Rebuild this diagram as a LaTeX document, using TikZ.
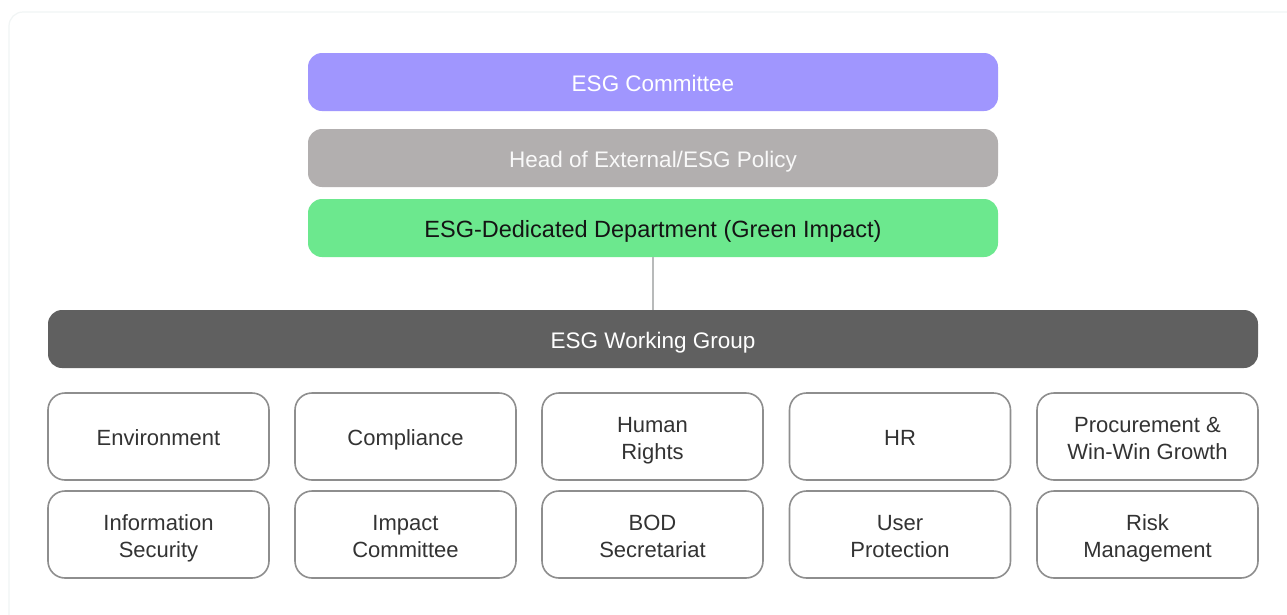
\documentclass[tikz,border=0pt]{standalone}
\usepackage{fontspec}
\setmainfont{Liberation Sans}
% one text line with fixed height and depth, so caps sit optically centred
\newcommand\tline[1]{\rule[-2pt]{0pt}{22pt}\smash{#1}}
\begin{document}
\begin{tikzpicture}[x=1pt,y=-1pt,
  bar/.style={rectangle, rounded corners=14pt, minimum width=690pt, minimum height=58pt,
    inner sep=0pt, font=\fontsize{22.5}{26}\selectfont},
  unit/.style={rectangle, rounded corners=17pt, draw=boxline, line width=1.6pt, fill=white,
    minimum width=221pt, minimum height=87pt, inner sep=0pt, align=center,
    text=boxtext, font=\fontsize{22}{27}\selectfont},
  link/.style={draw=linkgray, line width=2pt}]
  \definecolor{committee}{HTML}{A096FE}
  \definecolor{headgray}{HTML}{B2AFAF}
  \definecolor{greendept}{HTML}{6CE88E}
  \definecolor{wggray}{HTML}{606060}
  \definecolor{boxline}{HTML}{8E8E8E}
  \definecolor{boxtext}{HTML}{333333}
  \definecolor{linkgray}{HTML}{B8BABA}
  \definecolor{framecol}{HTML}{F1F5F5}
  % canvas and faint outer frame
  \useasboundingbox (0,0) rectangle (1287,614);
  \fill[white] (0,0) rectangle (1287,614);
  \draw[framecol, line width=1.2pt, rounded corners=14pt] (9,640) -- (9,12) -- (1310,12);
  % governance levels
  \node[bar, fill=committee, text=white] (comm) at (653,82) {\tline{ESG Committee}};
  \node[bar, fill=headgray, text=white!95!gray] (head) at (653,158) {\tline{Head of External/ESG Policy}};
  \node[bar, fill=greendept, text=black!92, font=\fontsize{23.5}{26}\selectfont] (dept) at (653,228) {\tline{ESG-Dedicated Department (Green Impact)}};
  \node[bar, fill=wggray, text=white, minimum width=1210pt] (wg) at (653,339) {\tline{ESG Working Group}};
  \draw[link] (dept.south) -- (wg.north);
  % working group members
  \node[unit] (env)  at (158.5,436.5) {\tline{Environment}};
  \node[unit] (comp) at (405.5,436.5) {\tline{Compliance}};
  \node[unit] (hum)  at (652.5,436.5) {\tline{Human}\\\tline{Rights}};
  \node[unit] (hr)   at (900,436.5)   {\tline{HR}};
  \node[unit] (proc) at (1147.5,436.5) {\tline{Procurement \&}\\\tline{Win-Win Growth}};
  \node[unit] (info) at (158.5,534.5) {\tline{Information}\\\tline{Security}};
  \node[unit] (imp)  at (405.5,534.5) {\tline{Impact}\\\tline{Committee}};
  \node[unit] (bod)  at (652.5,534.5) {\tline{BOD}\\\tline{Secretariat}};
  \node[unit] (user) at (900,534.5)   {\tline{User}\\\tline{Protection}};
  \node[unit] (risk) at (1147.5,534.5) {\tline{Risk}\\\tline{Management}};
\end{tikzpicture}
\end{document}
